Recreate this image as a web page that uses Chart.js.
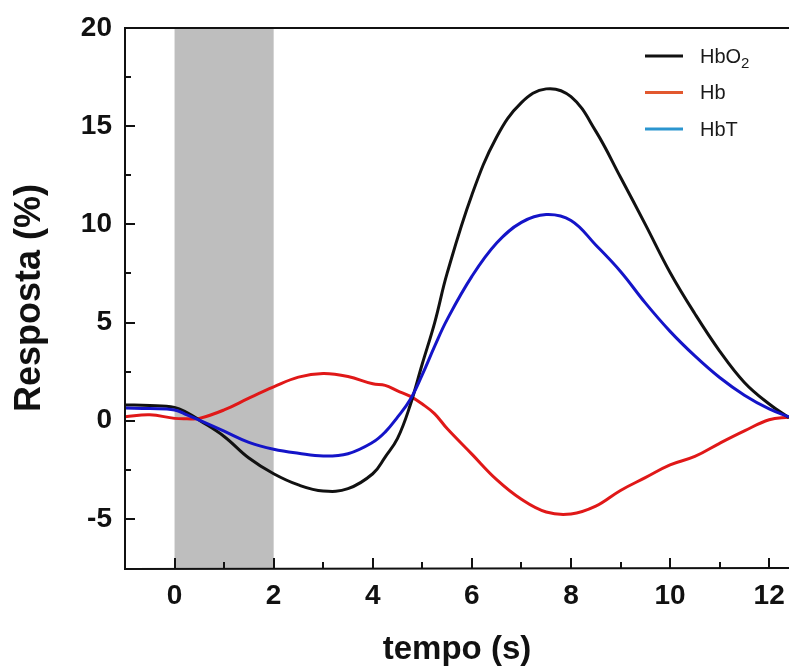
<!DOCTYPE html>
<html>
<head>
<meta charset="utf-8">
<script src="https://cdn.jsdelivr.net/npm/chart.js@4"></script>
<style>
  body { margin: 0; background: #fff; }
  #wrap { width: 789px; height: 666px; }
</style>
</head>
<body>
<div id="wrap"><canvas id="chart"></canvas></div>
<script>
const times = [-1, -0.5, 0, 0.25, 0.5, 1, 1.5, 2, 2.5, 3, 3.5, 4, 4.25, 4.5, 4.75, 5, 5.25, 5.5, 6, 6.5, 7, 7.5, 8, 8.5, 9, 9.5, 10, 10.5, 11, 11.5, 12, 12.4];
const hbo2 = [0.8, 0.78, 0.68, 0.42, 0.03, -0.8, -1.9, -2.7, -3.27, -3.58, -3.46, -2.7, -1.85, -0.9, 0.75, 2.9, 5.0, 7.5, 11.5, 14.45, 16.2, 16.9, 16.5, 14.75, 12.4, 10.0, 7.55, 5.45, 3.55, 1.95, 0.85, 0.15];
const hb = [0.2, 0.3, 0.12, 0.1, 0.12, 0.55, 1.15, 1.72, 2.22, 2.4, 2.25, 1.88, 1.8, 1.52, 1.25, 0.85, 0.35, -0.4, -1.7, -3.0, -4.0, -4.65, -4.75, -4.35, -3.55, -2.9, -2.25, -1.82, -1.15, -0.52, 0.05, 0.18];
const hbt = [0.65, 0.62, 0.55, 0.3, 0.03, -0.53, -1.1, -1.45, -1.66, -1.8, -1.68, -1.1, -0.58, 0.18, 1.05, 2.35, 3.8, 5.15, 7.35, 9.05, 10.1, 10.5, 10.2, 8.95, 7.6, 6.0, 4.55, 3.3, 2.2, 1.3, 0.6, 0.2];

const seriesNames = ["HbO₂", "Hb", "HbT"];
const lineColors = ["#111111", "#e01818", "#1414c8"];
const legendColors = ["#111111", "#e2582e", "#2b95cf"];

const xTicks = [0, 2, 4, 6, 8, 10, 12];
const xMinor = [1, 3, 5, 7, 9, 11];
const yTicks = [-5, 0, 5, 10, 15, 20];
const yMinor = [-2.5, 2.5, 7.5, 12.5, 17.5];
const stimulus = [0, 2];

const fontFamily = "'Liberation Sans', Arial, sans-serif";

function toPoints(values) {
  return times.map((t, i) => ({ x: t, y: values[i] }));
}

const bandPlugin = {
  id: "stimBand",
  beforeDatasetsDraw(chart) {
    const { ctx, chartArea, scales } = chart;
    const x0 = scales.x.getPixelForValue(stimulus[0]);
    const x1 = scales.x.getPixelForValue(stimulus[1]);
    ctx.save();
    ctx.fillStyle = "#bebebe";
    ctx.fillRect(x0, chartArea.top, x1 - x0, chartArea.bottom - chartArea.top);
    ctx.restore();
  },
};

const frameAndLegend = {
  id: "frameAndLegend",
  afterDatasetsDraw(chart) {
    const { ctx, chartArea, scales } = chart;
    ctx.save();
    ctx.strokeStyle = "#111";
    ctx.lineWidth = 2;

    // box: left, bottom, top
    ctx.beginPath();
    ctx.moveTo(chartArea.left, chartArea.top);
    ctx.lineTo(chartArea.right + 2, chartArea.top);
    ctx.moveTo(chartArea.left, chartArea.top - 1);
    ctx.lineTo(chartArea.left, chartArea.bottom + 1);
    ctx.lineTo(chartArea.right + 2, chartArea.bottom);
    ctx.stroke();

    // inward ticks
    ctx.beginPath();
    xTicks.concat(xMinor).forEach((v) => {
      const len = xTicks.includes(v) ? 10 : 6;
      const px = Math.round(scales.x.getPixelForValue(v));
      ctx.moveTo(px, chartArea.bottom);
      ctx.lineTo(px, chartArea.bottom - len);
    });
    yTicks.concat(yMinor).forEach((v) => {
      const len = yTicks.includes(v) ? 10 : 6;
      const py = Math.round(scales.y.getPixelForValue(v));
      ctx.moveTo(chartArea.left, py);
      ctx.lineTo(chartArea.left + len, py);
    });
    ctx.stroke();

    // legend inside plot
    const lx = chartArea.right - 144;
    let ly = chartArea.top + 28;
    ctx.textBaseline = "middle";
    ctx.textAlign = "left";
    seriesNames.forEach((name, i) => {
      ctx.strokeStyle = legendColors[i];
      ctx.lineWidth = 3;
      ctx.beginPath();
      ctx.moveTo(lx, ly);
      ctx.lineTo(lx + 38, ly);
      ctx.stroke();
      ctx.fillStyle = "#1a1a1a";
      const parts = name.split("₂");
      ctx.font = "20px " + fontFamily;
      ctx.fillText(parts[0], lx + 55, ly + 1);
      if (parts.length > 1) {
        const w = ctx.measureText(parts[0]).width;
        ctx.font = "15px " + fontFamily;
        ctx.fillText("2", lx + 55 + w, ly + 8);
      }
      ly += 36.5;
    });
    ctx.restore();
  },
};

new Chart(document.getElementById("chart"), {
  type: "line",
  data: {
    datasets: [
      { label: seriesNames[0], data: toPoints(hbo2), borderColor: lineColors[0], order: 1 },
      { label: seriesNames[1], data: toPoints(hb), borderColor: lineColors[1], order: 2 },
      { label: seriesNames[2], data: toPoints(hbt), borderColor: lineColors[2], order: 0 },
    ],
  },
  options: {
    responsive: true,
    maintainAspectRatio: false,
    animation: false,
    layout: { padding: { top: 28, right: 0, left: 0, bottom: 0 } },
    elements: {
      point: { radius: 0 },
      line: { borderWidth: 3, tension: 0.4 },
    },
    plugins: {
      legend: { display: false },
      tooltip: { enabled: false },
    },
    scales: {
      x: {
        type: "linear",
        min: -1,
        max: 12.4,
        afterBuildTicks: (s) => { s.ticks = xTicks.map((v) => ({ value: v })); },
        afterFit: (s) => { s.height = 98; s.paddingLeft = 0; s.paddingRight = 0; },
        grid: { display: false, drawTicks: false },
        border: { display: false },
        ticks: {
          padding: 11,
          color: "#111",
          font: { family: fontFamily, size: 28, weight: "bold" },
        },
        title: {
          display: true,
          text: "tempo (s)",
          color: "#111",
          padding: { top: 0, bottom: 0 },
          font: { family: fontFamily, size: 33, weight: "bold", lineHeight: 1 },
        },
      },
      y: {
        type: "linear",
        min: -7.5,
        max: 20,
        afterBuildTicks: (s) => { s.ticks = yTicks.map((v) => ({ value: v })); },
        afterFit: (s) => { s.width = 125; s.paddingTop = 0; s.paddingBottom = 0; },
        grid: { display: false, drawTicks: false },
        border: { display: false },
        ticks: {
          padding: 13,
          color: "#111",
          font: { family: fontFamily, size: 28, weight: "bold" },
        },
        title: {
          display: true,
          text: "Resposta (%)",
          color: "#111",
          padding: { top: 8, bottom: 0 },
          font: { family: fontFamily, size: 36, weight: "bold", lineHeight: 1.2 },
        },
      },
    },
  },
  plugins: [bandPlugin, frameAndLegend],
});
</script>
</body>
</html>
